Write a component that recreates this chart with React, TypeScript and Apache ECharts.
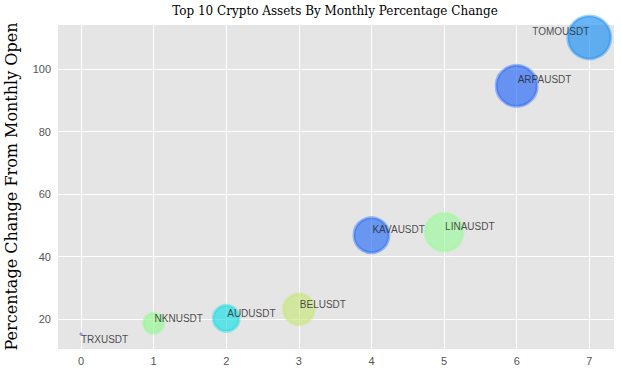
import React, { useEffect, useRef } from "react";
import * as echarts from "echarts";

const symbols = ["TRXUSDT", "NKNUSDT", "AUDUSDT", "BELUSDT", "KAVAUSDT", "LINAUSDT", "ARPAUSDT", "TOMOUSDT"];
const ranks = [0, 1, 2, 3, 4, 5, 6, 7];
const pctChange = [15.2, 18.6, 20.2, 23.1, 46.8, 47.8, 94.6, 110.1];
const markerSizes = [3, 20, 26, 31, 35, 38, 41, 43];
const baseColors = [
  [110, 80, 230],
  [143, 249, 143],
  [19, 221, 227],
  [198, 230, 120],
  [33, 105, 245],
  [153, 249, 153],
  [33, 99, 248],
  [19, 140, 243],
];
const labelOffsets = [
  [0, 5],
  [1, -5],
  [1, -5],
  [1, -5],
  [1, -6],
  [1, -6],
  [1, -6],
  [-57, -6],
];

export default function App() {
  const ref = useRef<HTMLDivElement>(null);
  useEffect(() => {
    if (!ref.current) return;
    const chart = echarts.init(ref.current, null, { renderer: "svg" });
    const data = symbols.map((s, i) => {
      const c = baseColors[i];
      return {
        name: s,
        value: [ranks[i], pctChange[i]],
        symbolSize: markerSizes[i],
        itemStyle: {
          color: `rgba(${c[0]},${c[1]},${c[2]},0.8)`,
          borderColor: `rgba(${c[0]},${c[1]},${c[2]},0.5)`,
          borderWidth: i === 0 ? 0 : 3,
        },
        label: { offset: labelOffsets[i] },
      };
    });
    chart.setOption({
      animation: false,
      backgroundColor: "#ffffff",
      title: {
        text: "Top 10 Crypto Assets By Monthly Percentage Change",
        left: 335,
        top: 5,
        textAlign: "center",
        padding: 0,
        textStyle: { fontFamily: "DejaVu Serif", fontSize: 12, fontWeight: "normal", color: "#000" },
      },
      grid: {
        left: 57,
        right: 7,
        top: 24,
        bottom: 27,
        show: true,
        backgroundColor: "#e5e5e5",
        borderWidth: 0,
        containLabel: false,
        outerBoundsMode: "none",
      },
      xAxis: {
        type: "value",
        min: -0.33,
        max: 7.34,
        splitNumber: 8,
        axisLine: { show: false },
        axisTick: { show: false },
        axisLabel: { color: "#555", fontSize: 11, fontFamily: "Liberation Sans", margin: 6, showMinLabel: false, showMaxLabel: false },
        splitLine: { show: true, lineStyle: { color: "#ffffff", width: 1 } },
      },
      yAxis: {
        type: "value",
        min: 10.4,
        max: 114.4,
        splitNumber: 5,
        name: "Percentage Change From Monthly Open",
        nameLocation: "middle",
        nameGap: 38,
        nameTextStyle: { fontFamily: "DejaVu Serif", fontSize: 16, color: "#000" },
        axisLine: { show: false },
        axisTick: { show: false },
        axisLabel: { color: "#555", fontSize: 11, fontFamily: "Liberation Sans", margin: 6, showMinLabel: false, showMaxLabel: false },
        splitLine: { show: true, lineStyle: { color: "#ffffff", width: 1 } },
      },
      series: [
        {
          type: "scatter",
          clip: false,
          data,
          label: {
            show: true,
            formatter: "{b}",
            position: ["50%", "50%"],
            align: "left",
            verticalAlign: "middle",
            color: "#222",
            fontSize: 10,
            fontFamily: "Liberation Sans",
          },
        },
      ],
    });
    return () => chart.dispose();
  }, []);
  return <div ref={ref} style={{ position: "fixed", left: 0, top: 0, width: 621, height: 376 }} />;
}
